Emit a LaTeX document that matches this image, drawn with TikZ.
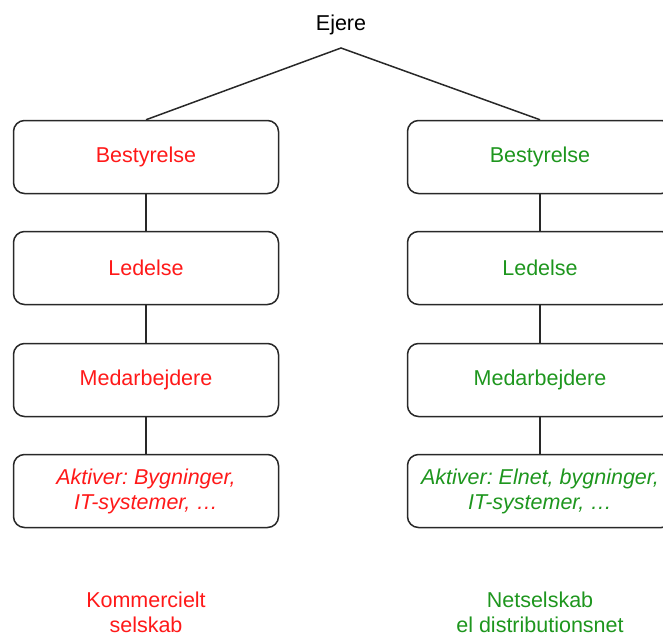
\documentclass[tikz,border=0pt]{standalone}
\usepackage{fontspec}
\setmainfont{Liberation Sans}
\frenchspacing
\definecolor{txtred}{RGB}{255,25,25}
\definecolor{txtgreen}{RGB}{30,150,30}
\definecolor{edge}{RGB}{40,40,40}
\begin{document}
\begin{tikzpicture}[x=1pt,y=-1pt,
  orgbox/.style={draw=edge,line width=1.5pt,rounded corners=11pt,minimum width=265pt,minimum height=73pt,inner sep=0pt,align=center,font=\fontsize{21.5}{26}\selectfont},
  conn/.style={draw=edge,line width=1.5pt},
  lbl/.style={align=center,font=\fontsize{21.5}{25}\selectfont}]
\useasboundingbox (0,0) rectangle (663,637);
\node[font=\fontsize{21.5}{26}\selectfont] (ejere) at (341,25) {Ejere};
\coordinate (apex) at (341,48);
% left column
\node[orgbox,text=txtred] (lb) at (146,157) {Bestyrelse};
\node[orgbox,text=txtred] (ll) at (146,268) {Ledelse};
\node[orgbox,text=txtred] (lm) at (146,380) {Medarbejdere};
\node[orgbox,text=txtred,font=\fontsize{21.5}{25}\selectfont\itshape] (la) at (146,491) {Aktiver: Bygninger,\\IT-systemer, …};
\node[lbl,text=txtred] (lk) at (146,612) {Kommercielt\\selskab};
% right column
\node[orgbox,text=txtgreen] (rb) at (540,157) {Bestyrelse};
\node[orgbox,text=txtgreen] (rl) at (540,268) {Ledelse};
\node[orgbox,text=txtgreen] (rm) at (540,380) {Medarbejdere};
\node[orgbox,text=txtgreen,font=\fontsize{21.5}{25}\selectfont\itshape] (ra) at (540,491) {Aktiver: Elnet, bygninger,\\IT-systemer, …};
\node[lbl,text=txtgreen] (rn) at (540,612) {Netselskab\\el distributionsnet};
% connectors
\draw[conn] (lb.north) -- (apex) -- (rb.north);
\draw[conn] (lb) -- (ll);
\draw[conn] (ll) -- (lm);
\draw[conn] (lm) -- (la);
\draw[conn] (rb) -- (rl);
\draw[conn] (rl) -- (rm);
\draw[conn] (rm) -- (ra);
\end{tikzpicture}
\end{document}
